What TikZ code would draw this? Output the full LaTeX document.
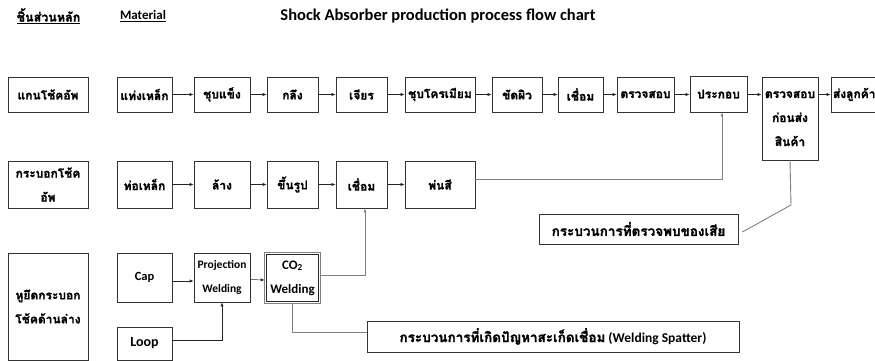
\documentclass[tikz,border=0pt]{standalone}
\usepackage{fontspec}
\setmainfont{Carlito}
\newfontfamily\thai[Script=Thai, FakeBold=1.5]{Loma}
\usetikzlibrary{arrows.meta}
\begin{document}
\begin{tikzpicture}[x=1pt,y=-1pt,
 box/.style={draw=black!80, line width=0.8pt, inner sep=0pt, align=center,
   font=\thai\bfseries\fontsize{12}{24}\selectfont},
 lbox/.style={box, font=\bfseries\fontsize{12}{24}\selectfont},
 arr/.style={-{Latex[length=4pt,width=3.2pt]}, line width=0.5pt, draw=black!85},
 gline/.style={line width=0.9pt, draw=black!50},
 garr/.style={gline, -{Latex[length=4pt,width=3.2pt]}},
 head/.style={inner sep=0pt, font=\bfseries\fontsize{13}{14}\selectfont},
]
\useasboundingbox (0,0) rectangle (875,361);

% headers
\node[head, font=\thai\bfseries\fontsize{12.5}{14}\selectfont] (h1) at (48.5,16) {\underline{ชิ้นส่วนหลัก}};
\node[head] (h2) at (143,16) {\underline{Material}};
\node[head, font=\bfseries\fontsize{16.5}{18}\selectfont] (h3) at (438,16) {Shock Absorber production process flow chart};

% row 1
\node[box, minimum width=80pt, minimum height=35pt] (r1) at (48,94.5) {แกนโช้คอัพ};
\node[box, minimum width=55pt, minimum height=35pt] (a1) at (144.5,94.5) {แท่งเหล็ก};
\node[box, minimum width=56pt, minimum height=35pt] (a2) at (222,94.5) {ชุบแข็ง};
\node[box, minimum width=51pt, minimum height=35pt] (a3) at (292.5,94.5) {กลึง};
\node[box, minimum width=51pt, minimum height=35pt] (a4) at (361.5,94.5) {เจียร};
\node[box, minimum width=70pt, minimum height=35pt] (a5) at (440,94.5) {ชุบโครเมียม};
\node[box, minimum width=50pt, minimum height=35pt] (a6) at (517,94.5) {ขัดผิว};
\node[box, minimum width=45pt, minimum height=35pt] (a7) at (580.5,94.5) {เชื่อม};
\node[box, minimum width=57pt, minimum height=35pt] (a8) at (645.5,94.5) {ตรวจสอบ};
\node[box, minimum width=57pt, minimum height=36pt] (a9) at (718.5,94) {ประกอบ};
\node[box, minimum width=56pt, minimum height=83pt] (a10) at (790,118.5) {ตรวจสอบ\\ก่อนส่ง\\สินค้า};
\node[box, minimum width=56pt, minimum height=35pt, text width=52pt, align=left] (a11) at (859,94.5) {ส่งลูกค้า};

\foreach \p/\q in {a1/a2,a2/a3,a3/a4,a4/a5,a5/a6,a6/a7,a7/a8,a8/a9,a9/a10,a10/a11}
  \draw[arr] (\p.east |- a1.east) -- (\q.west |- a1.west);

% row 2
\node[box, minimum width=80pt, minimum height=47pt] (r2) at (48,184.5) {กระบอกโช้ค\\อัพ};
\node[box, minimum width=55pt, minimum height=47pt] (b1) at (144.5,184.5) {ท่อเหล็ก};
\node[box, minimum width=56pt, minimum height=47pt] (b2) at (222,184.5) {ล้าง};
\node[box, minimum width=51pt, minimum height=47pt] (b3) at (292.5,184.5) {ขึ้นรูป};
\node[box, minimum width=51pt, minimum height=47pt] (b4) at (361.5,184.5) {เชื่อม};
\node[box, minimum width=70pt, minimum height=47pt] (b5) at (440,184.5) {พ่นสี};
\draw[arr] (b1) -- (b2);
\draw[arr] (b2) -- (b3);
\draw[arr] (b3) -- (b4);
\draw[arr] (b4) -- (b5);
\draw[garr] ([yshift=5.5pt]b5.east) -| ([xshift=3.5pt]a9.south);

% row 3
\node[box, minimum width=80pt, minimum height=107pt] (r3) at (48,306.5) {หูยึดกระบอก\\โช้คด้านล่าง};
\node[lbox, font=\bfseries\fontsize{12.5}{24}\selectfont, minimum width=55pt, minimum height=49pt] (cap) at (144.5,277.5) {Cap};
\node[lbox, font=\bfseries\fontsize{14}{24}\selectfont, minimum width=55pt, minimum height=33pt] (loop) at (144.5,343.5) {Loop};
\node[lbox, font=\bfseries\fontsize{11.5}{24}\selectfont, minimum width=56pt, minimum height=49pt] (proj) at (222,277.5) {Projection\\Welding};
\node[draw=black!85, line width=0.7pt, inner sep=0pt, align=center,
  font=\bfseries\fontsize{13}{24}\selectfont, minimum width=52pt, minimum height=47pt] (co2) at (292.5,278) {CO\textsubscript{2}\\Welding};
\draw[black!50, line width=1pt] ([shift={(-1.6pt,1.6pt)}]co2.north west) rectangle ([shift={(1.6pt,-1.6pt)}]co2.south east);
\draw[arr] ([yshift=-3.5pt]cap.east) -- ([yshift=-3.5pt]proj.west);
\draw[arr] ([yshift=-2pt]proj.east) -- ([yshift=-2pt,xshift=-1.6pt]co2.west);
\draw[arr] ([yshift=3.5pt]loop.east) -| (proj.south);
\draw[garr] ([yshift=3pt,xshift=1.6pt]co2.east) -| ([xshift=3.5pt]b4.south);

% notes
\node[box, font=\thai\bfseries\fontsize{13.5}{24}\selectfont, minimum width=199pt, minimum height=30pt] (defect) at (638.5,229) {กระบวนการที่ตรวจพบของเสีย};
\node[box, font=\bfseries\fontsize{13.5}{24}\selectfont, minimum width=372pt, minimum height=31pt] (spatter) at (553,336.5) {{\thai กระบวนการที่เกิดปัญหาสะเก็ดเชื่อม} (Welding Spatter)};
\coordinate (k1) at (791,205);
\draw[gline] (a10.south) -- (k1) -- ([xshift=4pt,yshift=-3pt]defect.east);
\draw[gline] ([yshift=-1.6pt]co2.south) |- ([yshift=4.5pt]spatter.west);
\end{tikzpicture}
\end{document}
